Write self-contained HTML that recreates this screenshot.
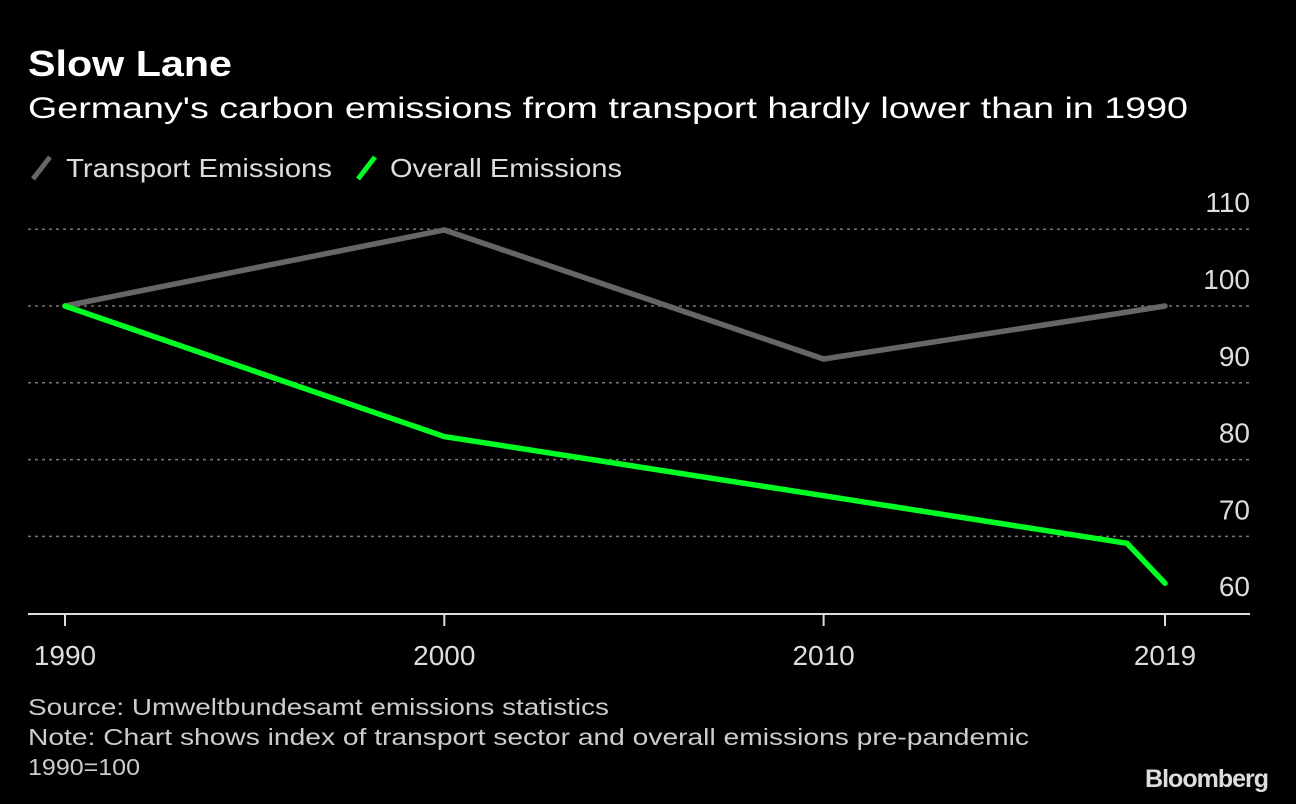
<!DOCTYPE html>
<html><head><meta charset="utf-8"><style>
body{margin:0;background:#000;width:1296px;height:804px;overflow:hidden;font-family:"Liberation Sans","DejaVu Sans",sans-serif;color:#ddd}
svg{position:absolute;left:0;top:0}
</style></head><body>
<svg width="1296" height="804">
<text x="28" y="76" fill="#fff" font-size="36" font-weight="bold" textLength="204" lengthAdjust="spacingAndGlyphs">Slow Lane</text>
<text x="28" y="118" fill="#fff" font-size="30" textLength="1160" lengthAdjust="spacingAndGlyphs">Germany's carbon emissions from transport hardly lower than in 1990</text>
<g>
<line x1="33" y1="179" x2="50" y2="157" stroke="#666" stroke-width="5"/>
<text x="66" y="177" fill="#ddd" font-size="26" textLength="266" lengthAdjust="spacingAndGlyphs">Transport Emissions</text>
<line x1="358" y1="179" x2="375" y2="157" stroke="#00ff22" stroke-width="5"/>
<text x="390" y="177" fill="#ddd" font-size="26" textLength="232" lengthAdjust="spacingAndGlyphs">Overall Emissions</text>
</g>
<g id="plot"></g>
<text x="28" y="715" fill="#ccc" font-size="23" textLength="581" lengthAdjust="spacingAndGlyphs">Source: Umweltbundesamt emissions statistics</text>
<text x="28" y="745" fill="#ccc" font-size="23" textLength="1001" lengthAdjust="spacingAndGlyphs">Note: Chart shows index of transport sector and overall emissions pre-pandemic</text>
<text x="28" y="775" fill="#ccc" font-size="23" textLength="112" lengthAdjust="spacingAndGlyphs">1990=100</text>
<text x="1268" y="787" fill="#ddd" font-size="25" font-weight="bold" text-anchor="end" letter-spacing="-1">Bloomberg</text>
</svg>
<script>
const years=[1990,2000,2010,2018,2019];
const transport=[100,109.9,93.1,99.2,100];
const overall=[100,83,75.3,69.1,63.9];
const yTicks=[60,70,80,90,100,110];
const xTicks=[1990,2000,2010,2019];
const ns="http://www.w3.org/2000/svg";
const g=document.getElementById('plot');
const X=y=>65+(y-1990)*(1165-65)/29;
const Y=v=>306-(v-100)*7.68;
function mk(t,a){const e=document.createElementNS(ns,t);for(const k in a)e.setAttribute(k,a[k]);g.appendChild(e);return e;}
yTicks.forEach(v=>{
 if(v>60){const l=mk('line',{x1:28,x2:1250,y1:Y(v),y2:Y(v),stroke:'#777','stroke-width':1.5,'stroke-dasharray':'3,4'});
 
 }
 const t=mk('text',{x:1250,y:Y(v)-17,fill:'#ddd','font-size':28,'text-anchor':'end'});t.textContent=v;
 
 
});
const ax=mk('line',{x1:28,x2:1250,y1:614,y2:614,stroke:'#ddd','stroke-width':2});


xTicks.forEach(y=>{
 const tk=mk('line',{x1:X(y),x2:X(y),y1:614,y2:626,stroke:'#ddd','stroke-width':2});
 
 
 const t=mk('text',{x:X(y),y:665,fill:'#ddd','font-size':28,'text-anchor':'middle'});t.textContent=y;
 
 
});
function line(vals,col,name){
 const p=mk('polyline',{points:years.map((y,i)=>X(y)+','+Y(vals[i])).join(' '),fill:'none',stroke:col,'stroke-width':5.5,'stroke-linejoin':'miter','stroke-linecap':'round'});
 
 
}
line(transport,'#666','transport-emissions-line');
line(overall,'#00ff22','overall-emissions-line');
</script>
</body></html>
